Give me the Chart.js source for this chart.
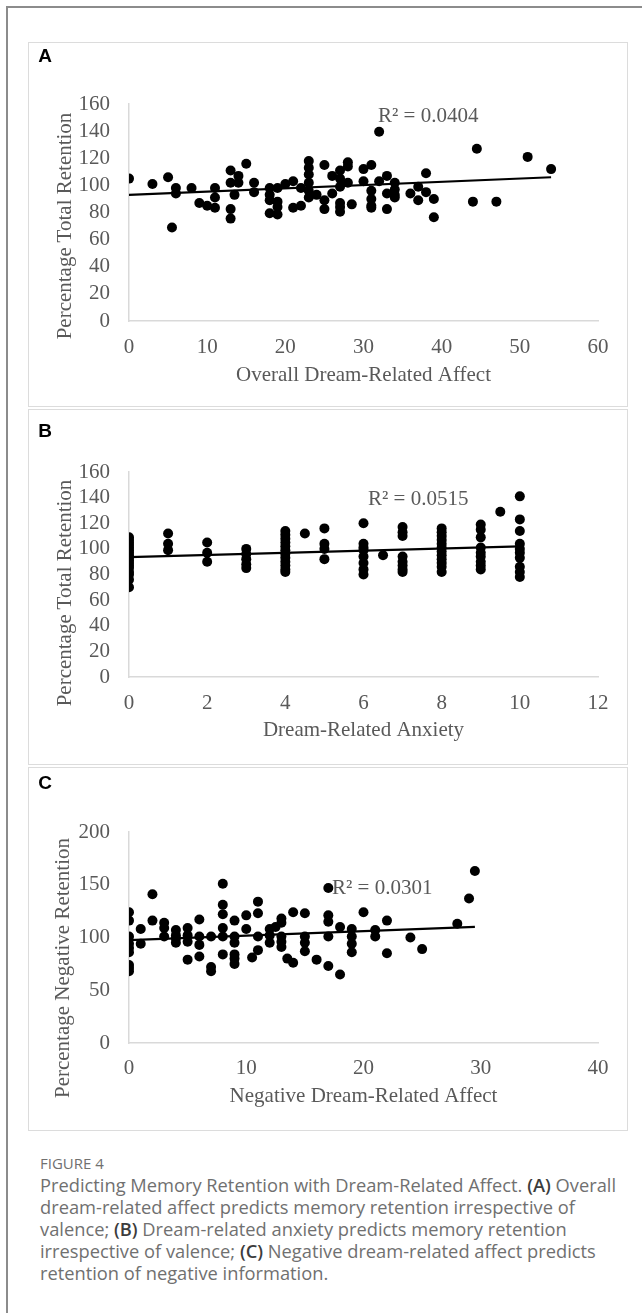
<!DOCTYPE html>
<html><head><meta charset="utf-8">
<script src="https://cdn.jsdelivr.net/npm/chart.js@4.4.0/dist/chart.umd.min.js"></script>
<style>
html,body{margin:0;padding:0;background:#fff;}
body{width:642px;height:1313px;position:relative;overflow:hidden;}
.frame-top{position:absolute;left:6px;top:6px;width:636px;height:2px;background:#8c8c8c;}
.frame-left{position:absolute;left:6px;top:6px;width:2px;height:1307px;background:#8c8c8c;}
.box{position:absolute;left:28px;width:600px;border:1px solid #dcdcdc;box-sizing:border-box;}
canvas{position:absolute;left:0;}
.lbl{position:absolute;font-family:"Liberation Sans",Arial,sans-serif;font-weight:bold;font-size:19px;color:#000;transform:translate(-50%,-50%);line-height:1;}
.r2{position:absolute;font-family:"Liberation Serif","Times New Roman",serif;font-size:21px;color:#595959;transform:translateY(-50%);line-height:1;white-space:nowrap;}
.ytitle{position:absolute;font-family:"Liberation Serif","Times New Roman",serif;font-size:21px;color:#595959;transform:translate(-50%,-50%) rotate(-90deg);white-space:nowrap;line-height:1;}
.caphead{position:absolute;left:40px;top:1163px;transform:translateY(-50%);font-family:"Open Sans",sans-serif;font-size:15px;color:#707070;line-height:1;}
.cap{position:absolute;left:40px;top:1174px;font-family:"Open Sans",sans-serif;font-size:18.3px;line-height:22px;color:#707070;white-space:nowrap;}
.cap b{color:#3c3c3c;font-weight:600;}
</style>
</head>
<body>
<div class="frame-top"></div>
<div class="frame-left"></div>
<div class="box" style="top:42px;height:365px;"></div>
<div class="box" style="top:409px;height:356px;"></div>
<div class="box" style="top:767px;height:364px;"></div>
<canvas id="cA" width="642" height="364" style="top:42px;"></canvas>
<canvas id="cB" width="642" height="355" style="top:409px;"></canvas>
<canvas id="cC" width="642" height="363" style="top:767px;"></canvas>
<div class="lbl" style="left:45px;top:55px;">A</div>
<div class="lbl" style="left:45px;top:430px;">B</div>
<div class="lbl" style="left:45px;top:782px;">C</div>
<div class="r2" style="left:378px;top:115px;">R² = 0.0404</div>
<div class="r2" style="left:368px;top:498px;">R² = 0.0515</div>
<div class="r2" style="left:332px;top:887px;">R² = 0.0301</div>
<div class="ytitle" style="left:64px;top:226px;">Percentage Total Retention</div>
<div class="ytitle" style="left:64px;top:593px;">Percentage Total Retention</div>
<div class="ytitle" style="left:62px;top:968px;">Percentage Negative Retention</div>
<div class="caphead">FIGURE 4</div>
<div class="cap">Predicting Memory Retention with Dream-Related Affect. <b>(A)</b> Overall<br>dream-related affect predicts memory retention irrespective of<br>valence; <b>(B)</b> Dream-related anxiety predicts memory retention<br>irrespective of valence; <b>(C)</b> Negative dream-related affect predicts<br>retention of negative information.</div>
<script>
// ---------- Panel A: overall dream-related affect vs total retention ----------
const affectA = [0,3,5,5.5,6,6,8,9,10,11,11,11,13,13,13,13,13.5,14,14,15,16,16,18,18,18,18,19,19,19,19,20,21,21,22,22,23,23,23,23,23,23,24,25,25,25,26,26,27,27,27,27,27,27,28,28,28,28.5,30,30,31,31,31,31,31,32,32,33,33,33,34,34,34,34,36,37,37,38,38,39,39,44,44.5,47,51,54];
const retentionA = [105,101,106,69,98,94,98,87,85,98,91,83.5,111,102,82.5,75.5,93,107,102,116,102,95,98,93,89,79.5,98,88,84,78.5,101,103,83.5,85,98,118,113,108,102,96,91,93,115,89,82.5,107,94,111,105,99,87,84,80.5,117,114,102,86,112,103,115,96,90,85,83.5,139.5,103,107,94,82.5,102,97,93,91,94,99,89,109,95,90,76.5,88,127,88,121,112];
const trendAx = [0,54];
const trendAy = [93,106];

// ---------- Panel B: dream-related anxiety vs total retention ----------
const anxietyB = [0,0,0,0,0,0,0,0,0,0,0,0,0,0,0,0,0,
  1,1,1, 2,2,2, 3,3,3,3,3,
  4,4,4,4,4,4,4,4,4,4,4,4, 4.5,
  5,5,5,5, 6,6,6,6,6,6,6,6, 6.5,
  7,7,7,7,7,7,7,7, 8,8,8,8,8,8,8,8,8,8,8,8,
  9,9,9,9,9,9,9,9,9, 9.5,
  10,10,10,10,10,10,10,10,10,10];
const retentionB = [109,107,105,103,101,99,97,95,93,91,89,87,85,82,80,76,70,
  112,104,99, 105,97,90, 100,96,92,88,85,
  114,111,108,105,102,99,96,93,90,87,84,82, 112,
  116,104,100,92, 120,104,101,99,94,89,84,80, 95,
  117,113,110,94,90,87,84,82, 116,113,110,107,104,101,98,95,92,89,86,82,
  119,115,109,101,97,94,90,87,84, 129,
  141,123,114,104,100,97,93,86,82,78];
const trendBx = [0,10];
const trendBy = [93.5,102];

// ---------- Panel C: negative dream-related affect vs negative retention ----------
const negAffectC = [0,0,0,0,0,0,0,0,0, 1,1, 2,2, 3,3,3, 4,4,4,4, 5,5,5,5, 6,6,6,6, 7,7,7,
  8,8,8,8,8,8, 9,9,9,9,9,9, 10,10, 10.5, 11,11,11,11, 12,12,12,12.5,
  13,13,13,13,13, 13.5, 14,14, 15,15,15,15, 16, 17,17,17,17,17, 18,18,
  19,19,19,19, 20, 21,21, 22,22, 24,25,28,29,29.5];
const negRetentionC = [124,116,101,94,90,86,74,71,68, 108,94, 141,116, 114,109,101, 107,102,99,95, 109,102,96,79, 117,101,93,82, 101,72,68,
  151,131,122,109,101,84, 116,101,95,84,80,75, 121,108, 81, 134,123,101,88, 108,102,95,110,
  118,114,101,96,91, 80, 124,76, 123,101,95,87, 79, 147,121,115,101,73, 110,65,
  108,101,94,86, 124, 107,101, 116,85, 100,89,113,137,163];
const trendCx = [0,29.5];
const trendCy = [97.5,110];

// ---------- axis settings ----------
const xTicksA = {min:0,max:60,step:10};
const xTicksB = {min:0,max:12,step:2};
const xTicksC = {min:0,max:40,step:10};
const yTicksAB = {min:0,max:160,step:20};
const yTicksC = {min:0,max:200,step:50};
const xTitleA = 'Overall Dream-Related Affect';
const xTitleB = 'Dream-Related Anxiety';
const xTitleC = 'Negative Dream-Related Affect';

const toPts = (xs, ys) => xs.map((v,i) => ({x:v, y:ys[i]}));
const serif = '"Liberation Serif","Times New Roman",serif';
const grey = '#595959';

function makeChart(id, xs, ys, tx, ty, xt, yt, xTitle, lay) {
  return new Chart(document.getElementById(id), {
    type: 'scatter',
    data: {
      datasets: [
        {data: toPts(xs, ys), backgroundColor:'#000', borderWidth:0, pointRadius:5, pointHoverRadius:5, order:2},
        {type:'line', data: toPts(tx, ty), borderColor:'#000', borderWidth:2.2, pointRadius:0, fill:false, tension:0, order:1}
      ]
    },
    options: {
      responsive:false, animation:false, devicePixelRatio:1,
      layout:{padding:{left:0, right:44, top:lay.top, bottom:0}},
      plugins:{legend:{display:false}, tooltip:{enabled:false}},
      scales:{
        x:{type:'linear', min:xt.min, max:xt.max,
           ticks:{stepSize:xt.step, autoSkip:false, color:grey, font:{family:serif, size:21}, padding:lay.xpad, maxRotation:0},
           grid:{display:false, drawTicks:false},
           border:{display:true, color:'#d9d9d9', width:1.5},
           title:{display:true, text:xTitle, color:grey, font:{family:serif, size:21}, padding:{top:0,bottom:lay.tpad}},
           afterFit:(s)=>{ s.height = lay.xh; }},
        y:{type:'linear', min:yt.min, max:yt.max,
           ticks:{stepSize:yt.step, autoSkip:false, color:grey, font:{family:serif, size:21}, padding:19},
           grid:{display:false, drawTicks:false},
           border:{display:true, color:'#d9d9d9', width:1.5},
           afterFit:(s)=>{ s.width = 129; }}
      }
    }
  });
}

makeChart('cA', affectA, retentionA, trendAx, trendAy, xTicksA, yTicksAB, xTitleA, {top:62, xh:85, xpad:14, tpad:18});
makeChart('cB', anxietyB, retentionB, trendBx, trendBy, xTicksB, yTicksAB, xTitleB, {top:63, xh:87, xpad:14, tpad:21});
makeChart('cC', negAffectC, negRetentionC, trendCx, trendCy, xTicksC, yTicksC, xTitleC, {top:65, xh:87, xpad:13, tpad:21});
</script>
</body></html>
